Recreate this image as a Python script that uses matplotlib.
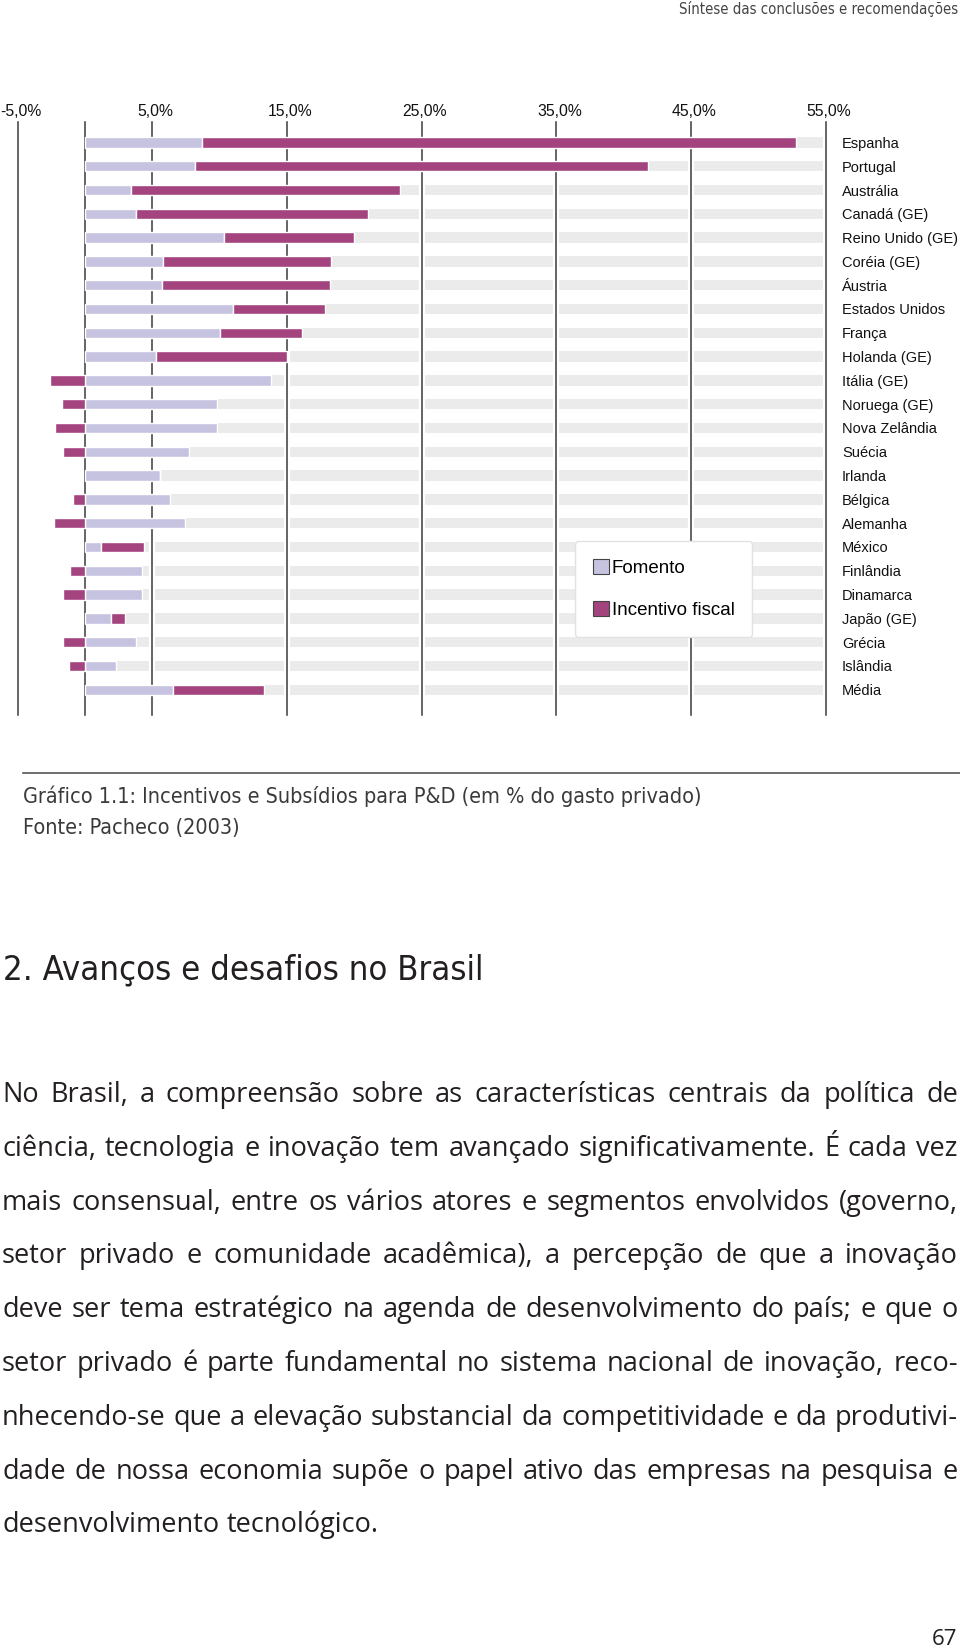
import numpy as np
import matplotlib
matplotlib.use("Agg")
import matplotlib.pyplot as plt
import matplotlib.patheffects as pe
import matplotlib.transforms as mtransforms
from matplotlib import font_manager
from matplotlib.patches import Patch
from matplotlib.lines import Line2D

# DADOS DO GRAFICO (% do gasto privado)

paises = ["Espanha", "Portugal", "Austrália", "Canadá (GE)", "Reino Unido (GE)",
          "Coréia (GE)", "Áustria", "Estados Unidos", "França", "Holanda (GE)",
          "Itália (GE)", "Noruega (GE)", "Nova Zelândia", "Suécia", "Irlanda",
          "Bélgica", "Alemanha", "México", "Finlândia", "Dinamarca",
          "Japão (GE)", "Grécia", "Islândia", "Média"]

fomento = [8.7, 8.2, 3.4, 3.8, 10.3, 5.8, 5.7, 11.0, 10.0, 5.3, 13.8, 9.8,
           9.8, 7.7, 5.6, 6.3, 7.4, 1.2, 4.2, 4.2, 1.9, 3.8, 2.3, 6.5]

incentivo = [44.1, 33.6, 20.0, 17.2, 9.7, 12.5, 12.5, 6.8, 6.1, 9.7, -2.6, -1.7,
             -2.2, -1.6, 0.0, -0.9, -2.3, 3.2, -1.1, -1.6, 1.1, -1.6, -1.2, 6.8]

ticks = [-5, 5, 15, 25, 35, 45, 55]
tick_labels = ["-5,0%", "5,0%", "15,0%", "25,0%", "35,0%", "45,0%", "55,0%"]
grade = [-5, 0, 5, 15, 25, 35, 45, 55]
limite = 55

# TEXTOS DA PAGINA

cabecalho = "Síntese das conclusões e recomendações"
legenda_grafico = ["Gráfico 1.1: Incentivos e Subsídios para P&D (em % do gasto privado)",
                   "Fonte: Pacheco (2003)"]
titulo_secao = "2. Avanços e desafios no Brasil"
paragrafo = [
    "No Brasil, a compreensão sobre as características centrais da política de",
    "ciência, tecnologia e inovação tem avançado significativamente. É cada vez",
    "mais consensual, entre os vários atores e segmentos envolvidos (governo,",
    "setor privado e comunidade acadêmica), a percepção de que a inovação",
    "deve ser tema estratégico na agenda de desenvolvimento do país; e que o",
    "setor privado é parte fundamental no sistema nacional de inovação, reco-",
    "nhecendo-se que a elevação substancial da competitividade e da produtivi-",
    "dade de nossa economia supõe o papel ativo das empresas na pesquisa e",
    "desenvolvimento tecnológico.",
]
pagina = "67"

# CORES E FONTES

cor_fomento = "#c6c3e1"
cor_incentivo = "#a4447f"
cor_trilho = "#ebebeb"
cor_grade = "#3a3a3a"
cor_texto = "#231f20"

# fonte estreita para titulos e legenda (o original usa uma condensada)
fontes = font_manager.fontManager.ttflist
if any(f.name == "Liberation Sans Narrow" for f in fontes):
    narrow = {"family": "Liberation Sans Narrow"}
elif any(f.name == "DejaVu Sans" and f.stretch == "condensed" for f in fontes):
    narrow = {"family": "DejaVu Sans", "stretch": "condensed"}
else:
    narrow = {"family": "Roboto"}
arial = ["Liberation Sans", "DejaVu Sans"]
corpo = ["Open Sans", "DejaVu Sans"]

W, H = 960, 1650


def fx(x):
    return x / W


def fy(y):
    return 1 - y / H


fig = plt.figure(figsize=(W / 100, H / 100), dpi=100)

# GRAFICO

ax = fig.add_axes([fx(17.7), fy(715), (825.7 - 17.7) / W, (715 - 121.7) / H])
n = len(paises)
y = np.arange(n)
altura = 0.44

ax.barh(y, limite, left=0, height=altura, color=cor_trilho, linewidth=0, zorder=1)

for g in grade:
    ax.axvline(g, color=cor_grade, lw=1.1, zorder=2, clip_on=False,
               path_effects=[pe.Stroke(linewidth=4.5, foreground="white"), pe.Normal()])

ax.barh(y, fomento, left=0, height=altura, color=cor_fomento,
        edgecolor="white", linewidth=1.0, zorder=3)

inc = np.array(incentivo)
fom = np.array(fomento)
inc_left = np.where(inc >= 0, fom, inc)
ax.barh(y, np.abs(inc), left=inc_left, height=altura, color=cor_incentivo,
        edgecolor="white", linewidth=1.0, zorder=3)

ax.set_xlim(-5, limite)
ax.set_ylim(n - 1 + 1.06, -0.87)
for s in ax.spines.values():
    s.set_visible(False)
ax.patch.set_visible(False)

ax.xaxis.tick_top()
ax.set_xticks(ticks, tick_labels)
ax.tick_params(axis="x", length=0, pad=2, labelsize=11.3, labelcolor="#111")
ax.yaxis.tick_right()
ax.set_yticks(y, paises)
ax.tick_params(axis="y", length=0, pad=11.7, labelsize=10.5, labelcolor="#111")
desloc = mtransforms.ScaledTranslation(3 / 100, 0, fig.dpi_scale_trans)
for lab in ax.get_xticklabels():
    lab.set_family(arial)
    lab.set_transform(lab.get_transform() + desloc)
for lab in ax.get_yticklabels():
    lab.set_family(arial)

handles = [Patch(facecolor=cor_fomento, edgecolor="#444", lw=0.8, label="Fomento"),
           Patch(facecolor=cor_incentivo, edgecolor="#444", lw=0.8, label="Incentivo fiscal")]
leg = ax.legend(handles=handles, loc="upper left", bbox_to_anchor=(fx(575), fy(541)),
                bbox_transform=fig.transFigure, prop={"family": arial, "size": 13.5},
                frameon=True, fancybox=True, framealpha=1, edgecolor="#e2e2e2",
                handlelength=0.85, handleheight=0.85, handletextpad=0.15,
                labelspacing=1.3, borderpad=0.95, borderaxespad=0)
leg.set_zorder(10)

# TEXTOS

fig.text(fx(958), fy(14), cabecalho, ha="right", va="baseline",
         size=10.7, color="#444", **narrow)

fig.add_artist(Line2D([fx(23), fx(960)], [fy(773), fy(773)], color="#555", lw=1.2))
fig.text(fx(23), fy(803), legenda_grafico[0], va="baseline", size=15.5,
         color="#3a3a3a", **narrow)
fig.text(fx(23), fy(834), legenda_grafico[1], va="baseline", size=15.5,
         color="#3a3a3a", **narrow)

fig.text(fx(3), fy(979), titulo_secao, va="baseline", size=24.8,
         color=cor_texto, **narrow)

# paragrafo justificado: cada palavra posicionada a mao
renderer = fig.canvas.get_renderer()
x0, x1 = 2, 958
base = 1102
passo = 53.8
for i, linha in enumerate(paragrafo):
    palavras = linha.split(" ")
    textos = [fig.text(0, fy(base + i * passo), p, va="baseline", family=corpo,
                       size=19.5, color=cor_texto) for p in palavras]
    larguras = [t.get_window_extent(renderer).width for t in textos]
    if i == len(paragrafo) - 1:
        espaco = 0.26 * 19.5 * 100 / 72
    else:
        espaco = (x1 - x0 - sum(larguras)) / (len(palavras) - 1)
    x = x0
    for t, w in zip(textos, larguras):
        t.set_x(fx(x))
        x += w + espaco

fig.text(fx(957), fy(1645), pagina, ha="right", va="baseline", family=corpo,
         size=16, color=cor_texto)

fig.savefig("out.png", dpi=100)
